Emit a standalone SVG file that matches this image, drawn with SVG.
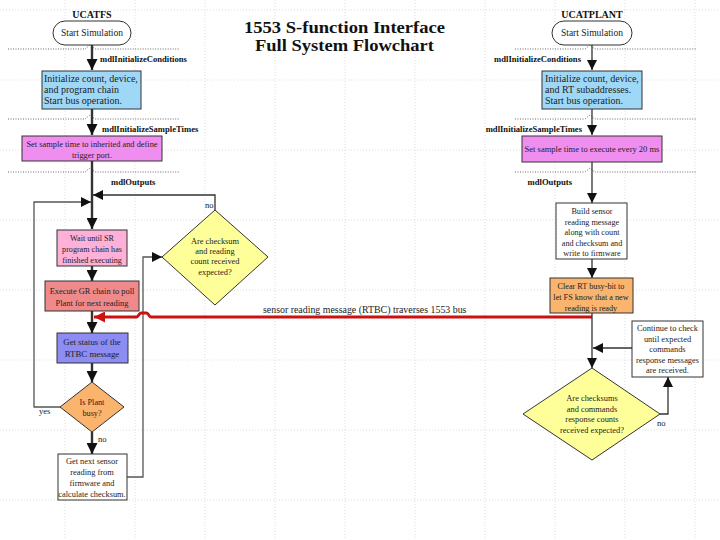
<svg xmlns="http://www.w3.org/2000/svg" width="720" height="540" viewBox="0 0 720 540">
<style>
  .grid { stroke: #d4d4d4; stroke-width: 0.8; stroke-dasharray: 1 2; fill: none; }
  .sep { stroke: #444; stroke-width: 0.8; stroke-dasharray: 1 1.5; fill: none; }
  .box { stroke: #333; stroke-width: 1; }
  .t { font-family: "Liberation Serif", "Times New Roman", serif; font-size: 10px; fill: #222; }
  .s { font-size: 8.4px; }
  .c { text-anchor: middle; }
  .lbl { font-family: "Liberation Serif", "Times New Roman", serif; font-size: 8.6px; font-weight: bold; fill: #111; }
  .hd { font-family: "Liberation Serif", "Times New Roman", serif; font-size: 10px; font-weight: bold; fill: #111; text-anchor: middle; }
  .title { font-family: "Liberation Serif", "DejaVu Serif", serif; font-size: 17.5px; font-weight: bold; fill: #111; text-anchor: middle; }
  .thick { stroke: #333; stroke-width: 2.4; fill: none; }
  .thin { stroke: #333; stroke-width: 1.3; fill: none; }
  .loop { stroke: #555; stroke-width: 1.3; fill: none; }
</style>
<defs>
  <marker id="ah" viewBox="0 0 10 10" refX="10" refY="5" markerWidth="10" markerHeight="10" markerUnits="userSpaceOnUse" orient="auto">
    <path d="M0,0 L10,5 L0,10 Z" fill="#111"/>
  </marker>
  <marker id="ahb" viewBox="0 0 10 10" refX="10" refY="5" markerWidth="11" markerHeight="11" markerUnits="userSpaceOnUse" orient="auto">
    <path d="M0,0 L10,5 L0,10 Z" fill="#111"/>
  </marker>
  <marker id="ahr" viewBox="0 0 10 10" refX="10" refY="5" markerWidth="13" markerHeight="11" markerUnits="userSpaceOnUse" orient="auto">
    <path d="M0,0 L10,5 L0,10 Z" fill="#cc1111"/>
  </marker>
</defs>

<rect x="0" y="0" width="720" height="540" fill="#ffffff"/>

<g id="grid">
  <path class="grid" d="M0,10 H720 M0,80 H720 M0,150 H720 M0,220 H720 M0,290 H720 M0,360 H720 M0,430 H720 M0,500 H720"/>
  <path class="grid" d="M65,0 V540 M135,0 V540 M205,0 V540 M275,0 V540 M345,0 V540 M415,0 V540 M485,0 V540 M555,0 V540 M625,0 V540 M695,0 V540"/>
</g>

<g id="separators">
  <path class="sep" d="M8,49 H85 L90,45 L95,49 H180"/>
  <path class="sep" d="M8,119 H85 L90,115 L95,119 H180"/>
  <path class="sep" d="M8,172 H85 L90,168 L95,172 H180"/>
  <path class="sep" d="M515,49 H585 L590,45 L595,49 H697"/>
  <path class="sep" d="M515,119 H585 L590,115 L595,119 H697"/>
  <path class="sep" d="M515,172 H585 L590,168 L595,172 H697"/>
</g>

<g id="title">
  <text class="title" x="344.5" y="33" textLength="201" lengthAdjust="spacingAndGlyphs">1553 S-function Interface</text>
  <text class="title" x="344.5" y="51" textLength="179" lengthAdjust="spacingAndGlyphs">Full System Flowchart</text>
</g>

<g id="connectors">
  <!-- left column -->
  <path class="thick" d="M92,45 V70" marker-end="url(#ahb)"/>
  <path class="thick" d="M92,109 V135" marker-end="url(#ahb)"/>
  <path class="thick" d="M92,161 V229" marker-end="url(#ahb)"/>
  <path class="thick" d="M92,266 V281" marker-end="url(#ahb)"/>
  <path class="thick" d="M92,311 V333" marker-end="url(#ahb)"/>
  <path class="thick" d="M92,363 V382" marker-end="url(#ahb)"/>
  <path class="thick" d="M92,432 V454" marker-end="url(#ahb)"/>
  <path class="thin" d="M215,210 V195 H93" marker-end="url(#ah)"/>
  <path class="loop" d="M60,407 H34 V202 H91" marker-end="url(#ah)"/>
  <path class="loop" d="M127,477 H143 V257 H162" marker-end="url(#ah)"/>
  <!-- bus message -->
  <path d="M592,317 H151 C149,317 148.5,313 146.5,313 H141 C139,313 138.5,317 136.5,317 H94" stroke="#cc1111" stroke-width="3" fill="none" marker-end="url(#ahr)"/>
  <!-- right column -->
  <path class="thin" d="M592,45 V70" marker-end="url(#ah)"/>
  <path class="thin" d="M592,109 V135" marker-end="url(#ah)"/>
  <path class="thin" d="M592,162 V203" marker-end="url(#ah)"/>
  <path class="thin" d="M592,259 V278" marker-end="url(#ah)"/>
  <path class="thin" d="M592,313 V368" marker-end="url(#ah)"/>
  <path class="thin" d="M632,348 H593" marker-end="url(#ah)"/>
  <path class="thin" d="M660,414 H668 V377" marker-end="url(#ah)"/>
</g>

<g id="connector-labels">
  <text class="lbl" x="100" y="62">mdlInitializeConditions</text>
  <text class="lbl" x="102" y="132">mdlInitializeSampleTimes</text>
  <text class="lbl" x="111" y="185">mdlOutputs</text>
  <text class="t" x="205" y="208" style="font-size:8.6px">no</text>
  <text class="t" x="39" y="414" style="font-size:8.6px">yes</text>
  <text class="t" x="98" y="442" style="font-size:8.6px">no</text>
  <text class="t" x="263" y="313" style="font-size:9.9px">sensor reading message (RTBC) traverses 1553 bus</text>
  <text class="lbl" x="581" y="62" text-anchor="end">mdlInitializeConditions</text>
  <text class="lbl" x="582" y="132" text-anchor="end">mdlInitializeSampleTimes</text>
  <text class="lbl" x="572" y="185" text-anchor="end">mdlOutputs</text>
  <text class="t" x="657" y="426" style="font-size:8.6px">no</text>
</g>

<!-- left column nodes -->
<g id="fs-header"><text class="hd" x="92" y="18">UCATFS</text></g>
<g id="fs-start">
  <rect class="box" x="53" y="21" width="78" height="24" rx="12" fill="#ffffff"/>
  <text class="t c" x="92" y="36" style="font-size:9.5px">Start Simulation</text>
</g>
<g id="fs-init">
  <rect class="box" x="42" y="71" width="99" height="38" fill="#9fd8f7"/>
  <text class="t" x="44" y="82">Initialize count, device,</text>
  <text class="t" x="44" y="93">and program chain</text>
  <text class="t" x="44" y="104">Start bus operation.</text>
</g>
<g id="fs-sample">
  <rect class="box" x="22" y="136" width="140" height="25" fill="#f08ef0"/>
  <text class="t s c" x="92" y="147">Set sample time to inherited and define</text>
  <text class="t s c" x="92" y="157.5">trigger port.</text>
</g>
<g id="fs-wait">
  <rect class="box" x="57" y="230" width="70" height="36" fill="#fdb0d8"/>
  <text class="t c" x="92" y="241" style="font-size:8.1px">Wait until SR</text>
  <text class="t c" x="92" y="252" style="font-size:8.1px">program chain has</text>
  <text class="t c" x="92" y="263" style="font-size:8.1px">finished executing</text>
</g>
<g id="fs-execute">
  <rect class="box" x="45" y="281" width="94" height="30" fill="#f08a8a"/>
  <text class="t s c" x="92" y="294">Execute GR chain to poll</text>
  <text class="t s c" x="92" y="306">Plant for next reading</text>
</g>
<g id="fs-status">
  <rect class="box" x="57" y="333" width="71" height="30" fill="#8c8cf2"/>
  <text class="t c" x="92" y="345" style="font-size:8.8px">Get status of the</text>
  <text class="t c" x="92" y="357" style="font-size:8.8px">RTBC message</text>
</g>
<g id="fs-busy">
  <polygon class="box" points="92,382 124,407 92,432 60,407" fill="#fbb46e"/>
  <text class="t c" x="92" y="405" style="font-size:8.2px">Is Plant</text>
  <text class="t c" x="92" y="416" style="font-size:8.2px">busy?</text>
</g>
<g id="fs-next">
  <rect class="box" x="58" y="454" width="69" height="46" fill="#ffffff"/>
  <text class="t s c" x="92" y="464">Get next sensor</text>
  <text class="t s c" x="92" y="475">reading from</text>
  <text class="t s c" x="92" y="486">firmware and</text>
  <text class="t s c" x="92" y="497">calculate checksum.</text>
</g>
<g id="fs-check">
  <polygon class="box" points="215,210 268,257 215,305 162,257" fill="#ffff99"/>
  <text class="t s c" x="215" y="244">Are checksum</text>
  <text class="t s c" x="215" y="254">and reading</text>
  <text class="t s c" x="215" y="264">count received</text>
  <text class="t s c" x="215" y="275">expected?</text>
</g>

<!-- right column nodes -->
<g id="plant-header"><text class="hd" x="592" y="18">UCATPLANT</text></g>
<g id="plant-start">
  <rect class="box" x="552" y="21" width="80" height="24" rx="12" fill="#ffffff"/>
  <text class="t c" x="592" y="36" style="font-size:9.5px">Start Simulation</text>
</g>
<g id="plant-init">
  <rect class="box" x="542" y="71" width="100" height="38" fill="#9fd8f7"/>
  <text class="t" x="545" y="82">Initialize count, device,</text>
  <text class="t" x="545" y="93">and RT subaddresses.</text>
  <text class="t" x="545" y="104">Start bus operation.</text>
</g>
<g id="plant-sample">
  <rect class="box" x="522" y="136" width="140" height="26" fill="#f08ef0"/>
  <text class="t c" x="592" y="152" style="font-size:8.5px">Set sample time to execute every 20 ms</text>
</g>
<g id="plant-build">
  <rect class="box" x="556" y="203" width="71" height="56" fill="#ffffff"/>
  <text class="t c" x="592" y="214" style="font-size:8.2px">Build sensor</text>
  <text class="t c" x="592" y="224.5" style="font-size:8.2px">reading message</text>
  <text class="t c" x="592" y="235" style="font-size:8.2px">along with count</text>
  <text class="t c" x="592" y="245.5" style="font-size:8.2px">and checksum and</text>
  <text class="t c" x="592" y="256" style="font-size:8.2px">write to firmware</text>
</g>
<g id="plant-clear">
  <rect class="box" x="550" y="278" width="83" height="35" fill="#fbb46e"/>
  <text class="t c" x="591" y="289" style="font-size:8.2px">Clear RT busy-bit to</text>
  <text class="t c" x="591" y="300" style="font-size:8.2px">let FS know that a new</text>
  <text class="t c" x="591" y="311" style="font-size:8.2px">reading is ready</text>
</g>
<g id="plant-continue">
  <rect class="box" x="632" y="321" width="71" height="56" fill="#ffffff"/>
  <text class="t s c" x="667.5" y="331">Continue to check</text>
  <text class="t s c" x="667.5" y="341.5">until expected</text>
  <text class="t s c" x="667.5" y="352">commands</text>
  <text class="t s c" x="667.5" y="362.5">response messages</text>
  <text class="t s c" x="667.5" y="373">are received.</text>
</g>
<g id="plant-check">
  <polygon class="box" points="592,368 660,414 592,460 523,414" fill="#ffff99"/>
  <text class="t s c" x="592" y="401">Are checksums</text>
  <text class="t s c" x="592" y="411.5">and commands</text>
  <text class="t s c" x="592" y="422">response counts</text>
  <text class="t s c" x="592" y="432.5">received expected?</text>
</g>
</svg>
